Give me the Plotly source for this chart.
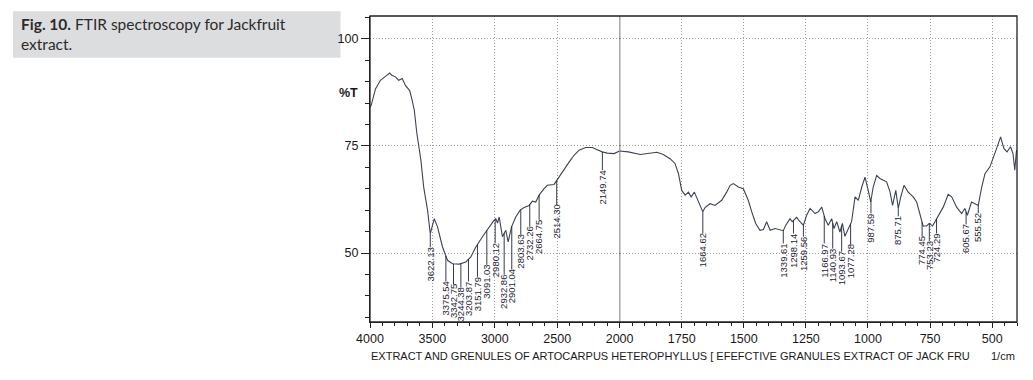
import numpy as np
import plotly.graph_objects as go

# ---------------- data ----------------
wavenumber = [4000, 3990, 3956, 3916, 3876, 3842, 3822, 3796, 3770, 3742, 3716, 3682, 3662, 3645,
              3625, 3610, 3592, 3570, 3539, 3517, 3500, 3485, 3459, 3419, 3379, 3339, 3285, 3232,
              3192, 3152, 3099, 3045, 3010, 2992, 2978, 2965, 2939, 2912, 2893, 2866, 2832, 2797,
              2765, 2725, 2699, 2672, 2645, 2605, 2579, 2525, 2486, 2445, 2405, 2365, 2325, 2272,
              2219, 2179, 2139, 2099, 2045, 2000,
              1965, 1917, 1884, 1850, 1824, 1797, 1777, 1763, 1750, 1736, 1723, 1712, 1699, 1683,
              1672, 1665, 1656, 1636, 1616, 1589, 1569, 1555, 1542, 1522, 1502, 1482, 1468, 1452,
              1435, 1421, 1408, 1394, 1374, 1354, 1341, 1331, 1314, 1305, 1287, 1274, 1260, 1247,
              1233, 1213, 1200, 1186, 1173, 1160, 1146, 1137, 1126, 1113, 1103, 1093, 1079, 1066,
              1052, 1039, 1025, 1012, 999, 989, 979, 965, 952, 925, 911, 901, 888, 878, 868, 855,
              838, 818, 804, 791, 778, 764, 753, 740, 726, 710, 697, 677, 663, 643, 623, 610, 600,
              583, 569, 556, 542, 529, 509, 496, 482, 466, 453, 440, 426, 416, 409, 402, 400]
transmittance = [84.0, 84.5, 88.3, 90.3, 91.2, 92.0, 91.4, 91.1, 90.3, 90.7, 89.1, 87.9, 85.6, 83.3,
                 78.0, 74.7, 71.6, 65.4, 60.0, 54.5, 56.5, 58.0, 56.1, 51.4, 48.3, 47.5, 47.4, 47.9,
                 49.1, 51.4, 53.8, 56.1, 57.5, 58.0, 57.0, 58.4, 53.8, 55.3, 52.6, 56.1, 58.4, 60.0,
                 60.6, 61.1, 62.1, 61.9, 63.5, 65.0, 65.8, 66.0, 67.7, 69.7, 71.2, 72.8, 74.0, 74.6,
                 74.6, 74.1, 73.6, 73.3, 73.2, 73.8,
                 73.6, 73.0, 73.2, 73.5, 73.0, 72.0, 70.9, 68.5, 64.6, 63.5, 64.2, 63.1, 64.2, 61.9,
                 60.4, 59.6, 60.6, 61.5, 61.1, 62.3, 64.2, 65.8, 66.2, 65.4, 65.0, 62.3, 59.6, 56.9,
                 55.3, 55.5, 57.3, 55.3, 55.7, 55.5, 55.2, 56.5, 58.0, 57.3, 58.3, 57.3, 56.5, 58.8,
                 60.4, 59.2, 59.6, 60.7, 58.0, 56.5, 58.0, 55.7, 57.3, 54.9, 56.9, 53.9, 55.7, 57.3,
                 63.1, 62.3, 65.4, 67.7, 64.6, 61.9, 65.4, 68.1, 67.4, 66.6, 64.2, 61.1, 64.6, 60.4, 63.1, 65.8,
                 64.2, 63.1, 61.9, 59.2, 56.3, 56.3, 56.9, 56.3, 57.8, 59.2, 60.7, 63.7, 63.1, 60.7, 59.2, 60.4, 58.8,
                 61.9, 61.5, 61.1, 65.4, 68.5, 70.1, 72.4, 74.4, 77.1, 74.4, 73.6, 74.8, 73.2, 69.3, 74.0, 73.5]

peak_labels = ["3622.13", "3375.54", "3342.75", "3244.38", "3203.87", "3151.79", "3091.03",
               "2980.12", "2932.86", "2901.04", "2803.63", "2732.26", "2664.75", "2514.30",
               "2149.74", "1664.62", "1339.61", "1298.14", "1259.56", "1166.97", "1140.93",
               "1093.67", "1077.28", "987.59", "875.71", "774.45", "753.23", "724.29",
               "605.67", "555.52"]
# where each label sits along the axis in the picture
peak_positions = [3517, 3392, 3331, 3272, 3211, 3139, 3064, 2997, 2925, 2864, 2792, 2720, 2645,
                  2504, 2138, 1665, 1341, 1300, 1260, 1176, 1142, 1106, 1070, 988, 878, 782,
                  753, 724, 605, 556]
# %T level of the top end of each label text
label_tops = [51.6, 43.6, 42.9, 42.2, 43.6, 44.7, 47.5, 52.6, 45.2, 46.4, 54.5, 56.4, 58.0, 61.5,
              69.6, 54.8, 52.5, 54.8, 54.1, 52.5, 51.3, 50.6, 52.2, 59.5, 58.8, 54.1, 53.0,
              54.8, 56.9, 59.5]

x_ticks_left = [4000, 3500, 3000, 2500, 2000]
x_ticks_right = [1750, 1500, 1250, 1000, 750, 500]
y_ticks = [50, 75, 100]

SPLIT = 2000
X_MAX, X_MIN = 4000, 400
Y_RANGE = [33.9, 105.3]

# ---------------- layout geometry ----------------
W, H = 1033, 380
ML, MR, MT, MB = 369.5, 15.5, 15.5, 58.3
PW, PH = W - ML - MR, H - MT - MB
SPLIT_FRAC = 250.0 / PW
PX_PER_T = PH / (Y_RANGE[1] - Y_RANGE[0])


def px_x(px):
    return (px - ML) / PW


def px_y(py):
    return (H - MB - py) / PH


wn = np.array(wavenumber, dtype=float)
tr = np.array(transmittance, dtype=float)
left = wn >= SPLIT
right = wn <= SPLIT

LINE_COLOR = "#3b4354"
TEXT_COLOR = "#1e2535"
SANS = "Liberation Sans, Arial, sans-serif"
GRID_COLOR = "#9c9c9c"

fig = go.Figure()
fig.add_trace(go.Scatter(x=wn[left], y=tr[left], mode="lines", xaxis="x", yaxis="y",
                         line=dict(color=LINE_COLOR, width=1.1), showlegend=False, hoverinfo="skip"))
fig.add_trace(go.Scatter(x=wn[right], y=tr[right], mode="lines", xaxis="x2", yaxis="y",
                         line=dict(color=LINE_COLOR, width=1.1), showlegend=False, hoverinfo="skip"))

grid = dict(showgrid=True, gridcolor=GRID_COLOR, griddash="1px,2px", gridwidth=1)
xcommon = dict(showline=True, linecolor="#222", linewidth=1.3, ticks="outside", ticklen=5,
               tickcolor="#222", tickfont=dict(family=SANS, size=12.5, color="#1a1a1a"),
               zeroline=False, fixedrange=True, **grid)

fig.update_layout(
    width=W, height=H,
    margin=dict(l=ML, r=MR, t=MT, b=MB, pad=0, autoexpand=False),
    paper_bgcolor="white", plot_bgcolor="white",
    xaxis=dict(domain=[0, SPLIT_FRAC], range=[X_MAX, SPLIT], anchor="y",
               tickmode="array", tickvals=x_ticks_left, ticktext=[str(v) for v in x_ticks_left],
               minor=dict(dtick=100, tick0=0, ticks="outside", ticklen=3, tickcolor="#222",
                          showgrid=False),
               **xcommon),
    xaxis2=dict(domain=[SPLIT_FRAC, 1], range=[SPLIT, X_MIN], anchor="y",
                tickmode="array", tickvals=x_ticks_right, ticktext=[str(v) for v in x_ticks_right],
                minor=dict(dtick=50, tick0=0, ticks="outside", ticklen=3, tickcolor="#222",
                           showgrid=False),
                **xcommon),
    yaxis=dict(range=Y_RANGE, anchor="x", showline=True, linecolor="#222", linewidth=1.3,
               ticks="outside", ticklen=8, tickcolor="#222",
               tickmode="array", tickvals=y_ticks, ticktext=[str(v) for v in y_ticks],
               tickfont=dict(family=SANS, size=12.5, color="#1a1a1a"),
               minor=dict(dtick=5, tick0=0, ticks="outside", ticklen=4, tickcolor="#222",
                          showgrid=False),
               zeroline=False, fixedrange=True, **grid),
)

shapes = [
    # plot frame
    dict(type="rect", xref="paper", yref="paper", x0=0, x1=1, y0=0, y1=1,
         line=dict(color="#222", width=1.3), layer="above"),
    # scale break line
    dict(type="line", xref="x2", yref="paper", x0=SPLIT, x1=SPLIT, y0=0, y1=1,
         line=dict(color="#222", width=1.2), layer="above"),
    # caption box
    dict(type="rect", xref="paper", yref="paper", x0=px_x(12), x1=px_x(340),
         y0=px_y(57.3), y1=px_y(10.7), fillcolor="#dcdddf", line=dict(width=0), layer="below"),
]

annotations = []
# caption
annotations.append(dict(
    xref="paper", yref="paper", x=px_x(18), y=px_y(12), xanchor="left", yanchor="top",
    align="left", showarrow=False,
    text="<b>Fig. 10.</b> FTIR spectroscopy for Jackfruit<br>extract.",
    font=dict(family="Lato, Open Sans, sans-serif", size=15.5, color="#2b2b2b")))
# %T
annotations.append(dict(
    xref="paper", yref="paper", x=px_x(359), y=px_y(93), xanchor="right", yanchor="middle",
    showarrow=False, text="<b>%T</b>",
    font=dict(family=SANS, size=12.5, color="#1a1a1a")))
# x axis title
annotations.append(dict(
    xref="paper", yref="paper", x=px_x(368), y=px_y(356), xanchor="left", yanchor="middle",
    showarrow=False,
    text="EXTRACT AND GRENULES OF ARTOCARPUS HETEROPHYLLUS [ EFEFCTIVE GRANULES EXTRACT OF JACK FRU",
    font=dict(family=SANS, size=11, color="#1a1a1a")))
annotations.append(dict(
    xref="paper", yref="paper", x=px_x(1018), y=px_y(356), xanchor="right", yanchor="middle",
    showarrow=False, text="1/cm",
    font=dict(family=SANS, size=11, color="#1a1a1a")))

# peak labels: rotated text hanging below a short leader line
LABEL_FS = 9.5
wn_inc = wn[::-1]
tr_inc = tr[::-1]
for lab, pos, top in zip(peak_labels, peak_positions, label_tops):
    xr = "x" if pos >= SPLIT else "x2"
    yval = float(np.interp(pos, wn_inc, tr_inc))
    n_dig = sum(ch.isdigit() for ch in lab)
    text_len = LABEL_FS * (0.556 * n_dig + 0.278) + 2
    centre = top - (text_len / 2) / PX_PER_T
    annotations.append(dict(
        xref=xr, yref="y", x=pos, y=yval,
        axref=xr, ayref="y", ax=pos, ay=centre,
        showarrow=True, arrowhead=0, arrowwidth=0.9, arrowcolor=TEXT_COLOR, standoff=0,
        text=lab, textangle=-90, borderpad=0, borderwidth=0,
        font=dict(family=SANS, size=LABEL_FS, color=TEXT_COLOR)))

fig.update_layout(shapes=shapes, annotations=annotations)

fig.write_html("out.html", config={"displayModeBar": False},
               post_script="document.body.style.margin='0';document.body.style.padding='0';")
